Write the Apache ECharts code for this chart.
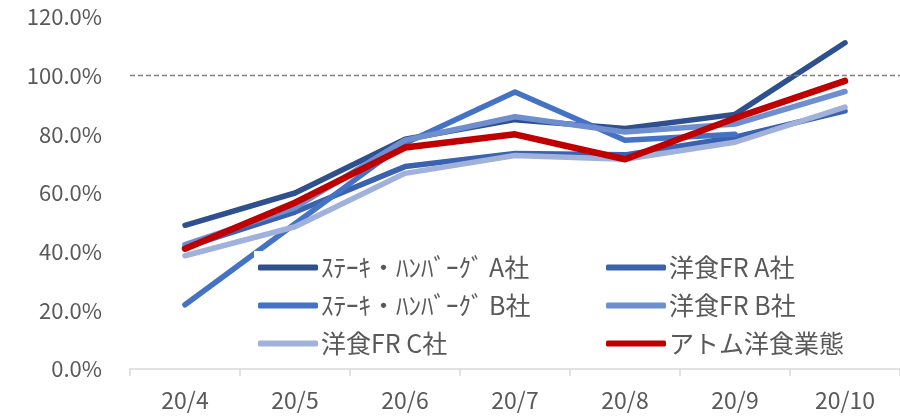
<!DOCTYPE html>
<html>
<head>
<meta charset="utf-8">
<script src="https://cdn.jsdelivr.net/npm/echarts@6/dist/echarts.min.js"></script>
<style>
  html, body { margin: 0; padding: 0; background: #fff; }
  #main { width: 900px; height: 419px; }
</style>
</head>
<body>
<div id="main"></div>
<script>
var months = ['20/4', '20/5', '20/6', '20/7', '20/8', '20/9', '20/10'];
var steakA = [49.0, 60.0, 78.3, 85.0, 82.0, 86.8, 111.2];
var frA = [41.5, 53.5, 69.0, 73.5, 73.0, 79.0, 88.0];
var steakB = [21.9, 49.5, 77.0, 94.4, 78.0, 80.0, null];
var frB = [42.4, 55.0, 78.0, 86.0, 80.8, 83.5, 94.6];
var frC = [38.6, 48.5, 66.7, 72.8, 71.5, 77.3, 89.3];
var atom = [41.0, 56.7, 75.5, 80.0, 71.5, 85.5, 98.2];
var names = ['ｽﾃｰｷ・ﾊﾝﾊﾞｰｸﾞ A社', '洋食FR A社', 'ｽﾃｰｷ・ﾊﾝﾊﾞｰｸﾞ B社', '洋食FR B社', '洋食FR C社', 'アトム洋食業態'];
var colors = ['#2E508E', '#3A62AE', '#4472C4', '#6E8ED0', '#A0B2DC', '#C00000'];

var chart = echarts.init(document.getElementById('main'));
var font = '"Noto Sans CJK JP", "Noto Sans", sans-serif';

function line(i, data) {
    return {
        name: names[i],
        type: 'line',
        data: data,
        showSymbol: false,
        symbol: 'none',
        lineStyle: { width: i === 5 ? 6.5 : 5.5, color: colors[i], cap: 'round', join: 'round' },
        itemStyle: { color: colors[i] }
    };
}

var series = [
    line(0, steakA), line(1, frA), line(2, steakB),
    line(3, frB), line(4, frC), line(5, atom)
];
series[0].markLine = {
    silent: true,
    symbol: 'none',
    label: { show: false },
    lineStyle: { color: '#808080', type: [5, 3], width: 1.3 },
    data: [{ yAxis: 100 }]
};

var legendBase = {
    orient: 'vertical',
    backgroundColor: '#fff',
    itemWidth: 60,
    itemHeight: 6,
    itemGap: 13,
    icon: 'roundRect',
    padding: [4, 6, 4, 4],
    textStyle: { fontFamily: font, fontSize: 25, color: '#595959', padding: [0, 0, 0, -2] }
};

var option = {
    animation: false,
    textStyle: { fontFamily: font },
    grid: { left: 130, right: -7, top: 17, bottom: 50 },
    legend: [
        Object.assign({}, legendBase, { left: 254, top: 251, data: [names[0], names[2], names[4]] }),
        Object.assign({}, legendBase, { left: 602, top: 251, data: [names[1], names[3], names[5]] })
    ],
    xAxis: {
        type: 'category',
        data: months,
        axisLine: { lineStyle: { color: '#D9D9D9', width: 1.5 } },
        axisTick: { show: true, length: 7, lineStyle: { color: '#D9D9D9', width: 1.5 } },
        axisLabel: { color: '#595959', fontSize: 23, margin: 20, fontFamily: font }
    },
    yAxis: {
        type: 'value',
        min: 0,
        max: 120,
        interval: 20,
        splitLine: { show: false },
        axisLine: { show: false },
        axisTick: { show: false },
        axisLabel: {
            color: '#595959', fontSize: 22, margin: 28, fontFamily: font,
            formatter: function (v) { return v.toFixed(1) + '%'; }
        }
    },
    series: series
};
chart.setOption(option);
window.addEventListener('resize', function () { chart.resize(); });
</script>
</body>
</html>
